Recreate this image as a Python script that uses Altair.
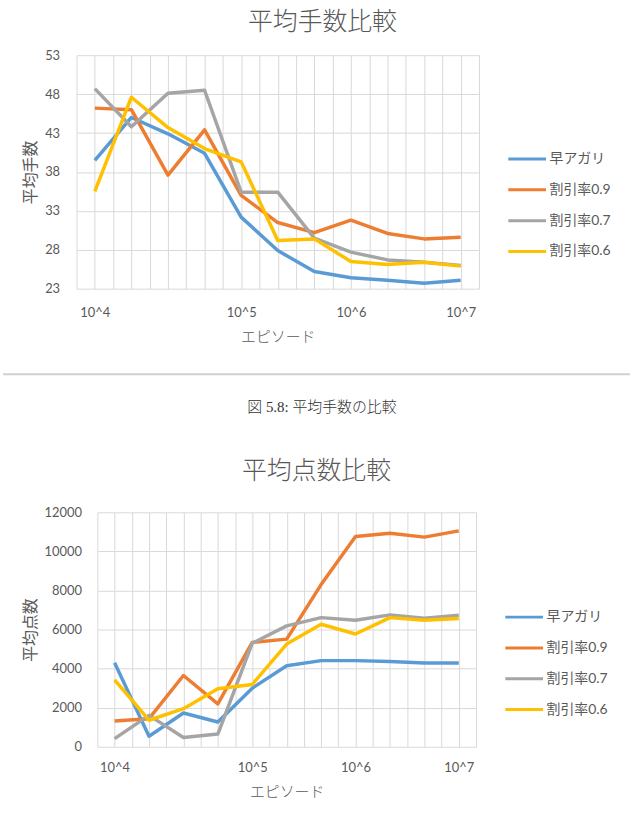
import altair as alt
import pandas as pd

# ---------------- data ----------------
x_labels = ["10^4", "", "", "", "10^5", "", "", "10^6", "", "", "10^7"]
series = ["早アガリ", "割引率0.9", "割引率0.7", "割引率0.6"]
colors = ["#5B9BD5", "#ED7D31", "#A5A5A5", "#FFC000"]

moves_early = [39.5, 45.0, 42.9, 40.4, 32.2, 27.9, 25.2, 24.4, 24.1, 23.7, 24.1]
moves_09 = [46.2, 46.0, 37.6, 43.4, 35.0, 31.5, 30.2, 31.8, 30.1, 29.4, 29.6]
moves_07 = [48.7, 43.8, 48.1, 48.5, 35.4, 35.4, 29.5, 27.7, 26.7, 26.4, 26.0]
moves_06 = [35.5, 47.6, 43.7, 41.0, 39.3, 29.2, 29.4, 26.5, 26.1, 26.4, 25.9]

score_early = [4300, 540, 1730, 1270, 3000, 4150, 4410, 4410, 4360, 4290, 4290]
score_09 = [1320, 1440, 3650, 2200, 5340, 5510, 8300, 10760, 10930, 10730, 11050]
score_07 = [420, 1610, 480, 650, 5300, 6190, 6610, 6480, 6750, 6580, 6730]
score_06 = [3430, 1360, 1950, 2970, 3190, 5260, 6270, 5770, 6610, 6480, 6560]

moves_ticks = [23, 28, 33, 38, 43, 48, 53]
score_ticks = [0, 2000, 4000, 6000, 8000, 10000, 12000]

title_top = "平均手数比較"
title_bottom = "平均点数比較"
ytitle_top = "平均手数"
ytitle_bottom = "平均点数"
xtitle = "エピソード"
caption = "図 5.8: 平均手数の比較"

# ---------------- styling ----------------
TXT = "#595959"
GRID = "#D9D9D9"
JP = "Noto Sans CJK JP"
NUM = "Lato, 'Noto Sans CJK JP'"

n = len(x_labels)
grid_vals = [i / 2 - 0.5 for i in range(2 * n + 1)]
expr = "''"
for i in reversed(range(n)):
    if x_labels[i]:
        expr = f"datum.value === {i} ? '{x_labels[i]}' : ({expr})"


def long_df(lists):
    rows = []
    for s, vals in zip(series, lists):
        for i, v in enumerate(vals):
            rows.append({"idx": i, "series": s, "value": v})
    return pd.DataFrame(rows)


def line_chart(lists, title, ytitle, ydomain, yticks, width, height,
               title_dx, title_off, lx, ly, ylabpad, xlabpad):
    df = long_df(lists)
    return alt.Chart(df).mark_line(strokeWidth=3.5, strokeJoin="round").encode(
        x=alt.X("idx:Q",
                scale=alt.Scale(domain=[-0.5, n - 0.5], nice=False, zero=False),
                axis=alt.Axis(values=grid_vals, labelExpr=expr, title=xtitle,
                              grid=True, gridColor=GRID, ticks=False, domain=False,
                              labelOverlap=False, labelFlush=False,
                              labelFont=NUM, labelFontSize=13, labelColor=TXT,
                              labelPadding=xlabpad, titleFont=JP, titleFontSize=15,
                              titleColor=TXT, titleFontWeight=300,
                              titlePadding=10)),
        y=alt.Y("value:Q",
                scale=alt.Scale(domain=ydomain, nice=False, zero=False),
                axis=alt.Axis(values=yticks, title=ytitle, grid=True, format="d",
                              gridColor=GRID, ticks=False, domain=False,
                              labelFont=NUM, labelFontSize=13, labelColor=TXT,
                              labelPadding=ylabpad, titleFont=JP,
                              titleFontSize=16, titleColor=TXT,
                              titleFontWeight="normal", titlePadding=6)),
        color=alt.Color("series:N", sort=series,
                        scale=alt.Scale(domain=series, range=colors),
                        legend=alt.Legend(orient="none", legendX=lx, legendY=ly,
                                          title=None, symbolType="stroke",
                                          symbolStrokeWidth=3, symbolSize=1440,
                                          labelFont=NUM, labelFontSize=14,
                                          labelColor=TXT, labelOffset=2,
                                          rowPadding=3, padding=0)),
    ).properties(
        width=width, height=height,
        title=alt.TitleParams(title, font=JP, fontSize=25, color=TXT,
                              fontWeight=300, anchor="middle",
                              dx=title_dx, offset=title_off),
    )


spacer = alt.Chart(pd.DataFrame({"a": [0]})).mark_point(opacity=0).properties(
    width=1, height=1)

top = line_chart([moves_early, moves_09, moves_07, moves_06], title_top,
                 ytitle_top, [23, 53], moves_ticks, 405, 235, 45, 14, 433, 84,
                 17, 18)
bottom = line_chart([score_early, score_09, score_07, score_06], title_bottom,
                    ytitle_bottom, [0, 12000], score_ticks, 381, 236, 30, 23,
                    409, 85, 16, 15)

cap_df = pd.DataFrame({"t": [caption]})
cap_rule = alt.Chart(cap_df).mark_rule(color="#D0D0D0", strokeWidth=2).encode(
    x=alt.value(0), x2=alt.value(631), y=alt.value(30))
cap_text = alt.Chart(cap_df).mark_text(
    font="'Liberation Serif', 'Noto Sans CJK JP'", fontSize=15, color="#333333",
    fontWeight=300, baseline="middle", align="center").encode(
    text="t:N", x=alt.value(321), y=alt.value(63))
middle = alt.layer(cap_rule, cap_text).properties(width=631, height=115)

top_row = alt.hconcat(spacer, top, spacing=15).resolve_scale(color="independent")
bottom_row = alt.hconcat(spacer, bottom, spacing=15).resolve_scale(color="independent")

chart = alt.vconcat(top_row, middle, bottom_row, spacing=0).resolve_scale(
    color="independent"
).properties(
    padding={"left": 0, "top": 8, "right": 0, "bottom": 0},
    background="white",
).configure_view(strokeWidth=0, stroke=None)

chart.save("out.html", embed_options={"renderer": "svg", "actions": False})
